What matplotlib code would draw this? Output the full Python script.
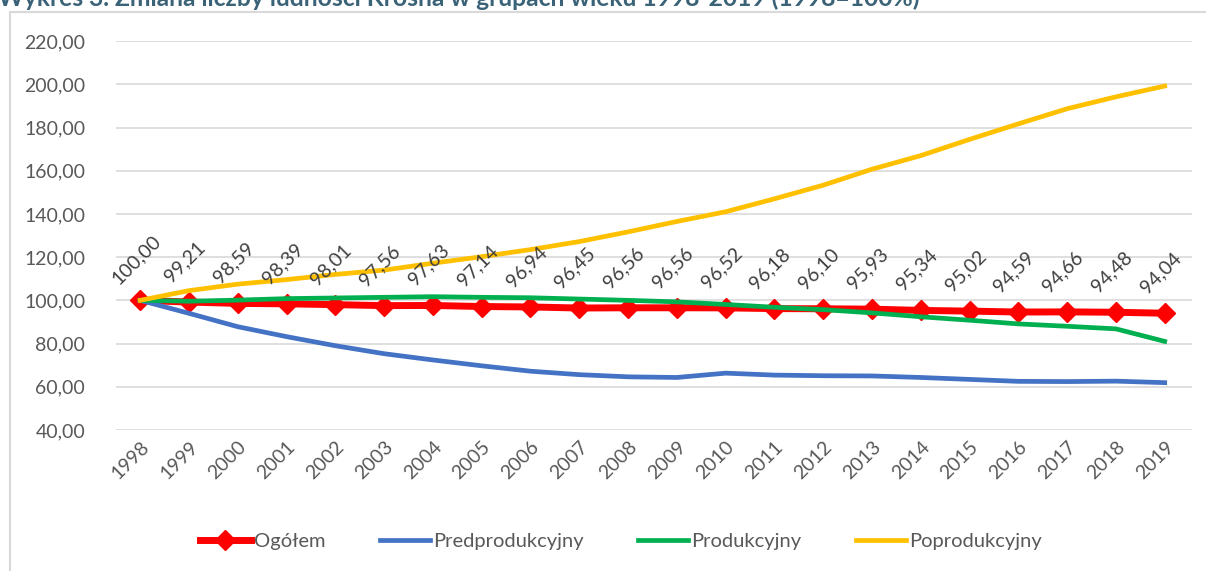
import matplotlib.pyplot as plt
from matplotlib.patches import Rectangle

plt.rcParams['font.family'] = ['Lato', 'DejaVu Sans']

years = [str(y) for y in range(1998, 2020)]
ogolem = [100.00, 99.21, 98.59, 98.39, 98.01, 97.56, 97.63, 97.14, 96.94, 96.45, 96.56,
          96.56, 96.52, 96.18, 96.10, 95.93, 95.34, 95.02, 94.59, 94.66, 94.48, 94.04]
predprod = [100.0, 94.0, 87.8, 83.2, 79.0, 75.3, 72.4, 69.7, 67.2, 65.6, 64.6,
            64.3, 66.3, 65.4, 65.1, 65.0, 64.3, 63.4, 62.5, 62.4, 62.6, 61.9]
prod = [100.0, 99.6, 100.1, 100.8, 101.1, 101.4, 101.7, 101.4, 101.2, 100.6, 100.0,
        99.3, 98.1, 96.8, 95.7, 94.2, 92.4, 90.8, 89.1, 88.0, 86.8, 81.0]
poprod = [100.0, 104.5, 107.5, 109.6, 112.0, 114.0, 117.2, 120.2, 123.5, 127.2, 131.7,
          136.5, 141.0, 147.0, 153.3, 160.7, 167.0, 174.5, 181.7, 188.7, 194.2, 199.2]

x = list(range(len(years)))

fig = plt.figure(figsize=(12.06, 5.71), dpi=100)
ax = fig.add_axes([0.096, 0.247, 0.892, 0.681])

# chart frame (Excel style)
fig.patches.append(Rectangle((10 / 1206, -0.2), 1.2, 1.2 - 12 / 571, transform=fig.transFigure,
                             fill=False, edgecolor='#d9d9d9', linewidth=1.5))

ax.plot(x, ogolem, color='#ff0000', linewidth=5, marker='D', markersize=10,
        label='Ogółem', zorder=3)
ax.plot(x, predprod, color='#4472c4', linewidth=3.4, label='Predprodukcyjny', zorder=4)
ax.plot(x, prod, color='#00b050', linewidth=3.4, label='Produkcyjny', zorder=5)
ax.plot(x, poprod, color='#ffc000', linewidth=3.4, label='Poprodukcyjny', zorder=6)

for xi, v in zip(x, ogolem):
    ax.annotate(f'{v:.2f}'.replace('.', ','), (xi, v), xytext=(-3, 29),
                textcoords='offset points', ha='center', va='center',
                rotation=45, fontsize=14, color='#404040', zorder=7)

ax.set_xlim(-0.5, len(years) - 0.45)
ax.set_ylim(40, 220)
ax.set_yticks(range(40, 221, 20))
ax.set_yticklabels([f'{t},00' for t in range(40, 221, 20)])
ax.set_xticks(x)
ax.set_xticklabels(years, rotation=45, ha='right', rotation_mode='anchor')
ax.tick_params(axis='both', length=0, labelsize=14, labelcolor='#595959')
ax.tick_params(axis='y', pad=22)
ax.tick_params(axis='x', pad=6)
ax.grid(axis='y', color='#d9d9d9', linewidth=1.2)
ax.set_axisbelow(True)
for s in ax.spines.values():
    s.set_visible(False)

fig.text(-0.002, 1 - 6 / 571, 'Wykres 3. Zmiana liczby ludności Krosna w grupach wieku 1998-2019 (1998=100%)',
         fontsize=17.7, fontweight='bold', color='#3b6378', va='baseline', ha='left')

fig.legend(loc='center', bbox_to_anchor=(0.515, 0.0525), ncol=4, frameon=False,
           fontsize=14.5, handlelength=2.5, handletextpad=0.15, columnspacing=2.7,
           labelcolor='#595959')

fig.savefig('out.png', dpi=100)
